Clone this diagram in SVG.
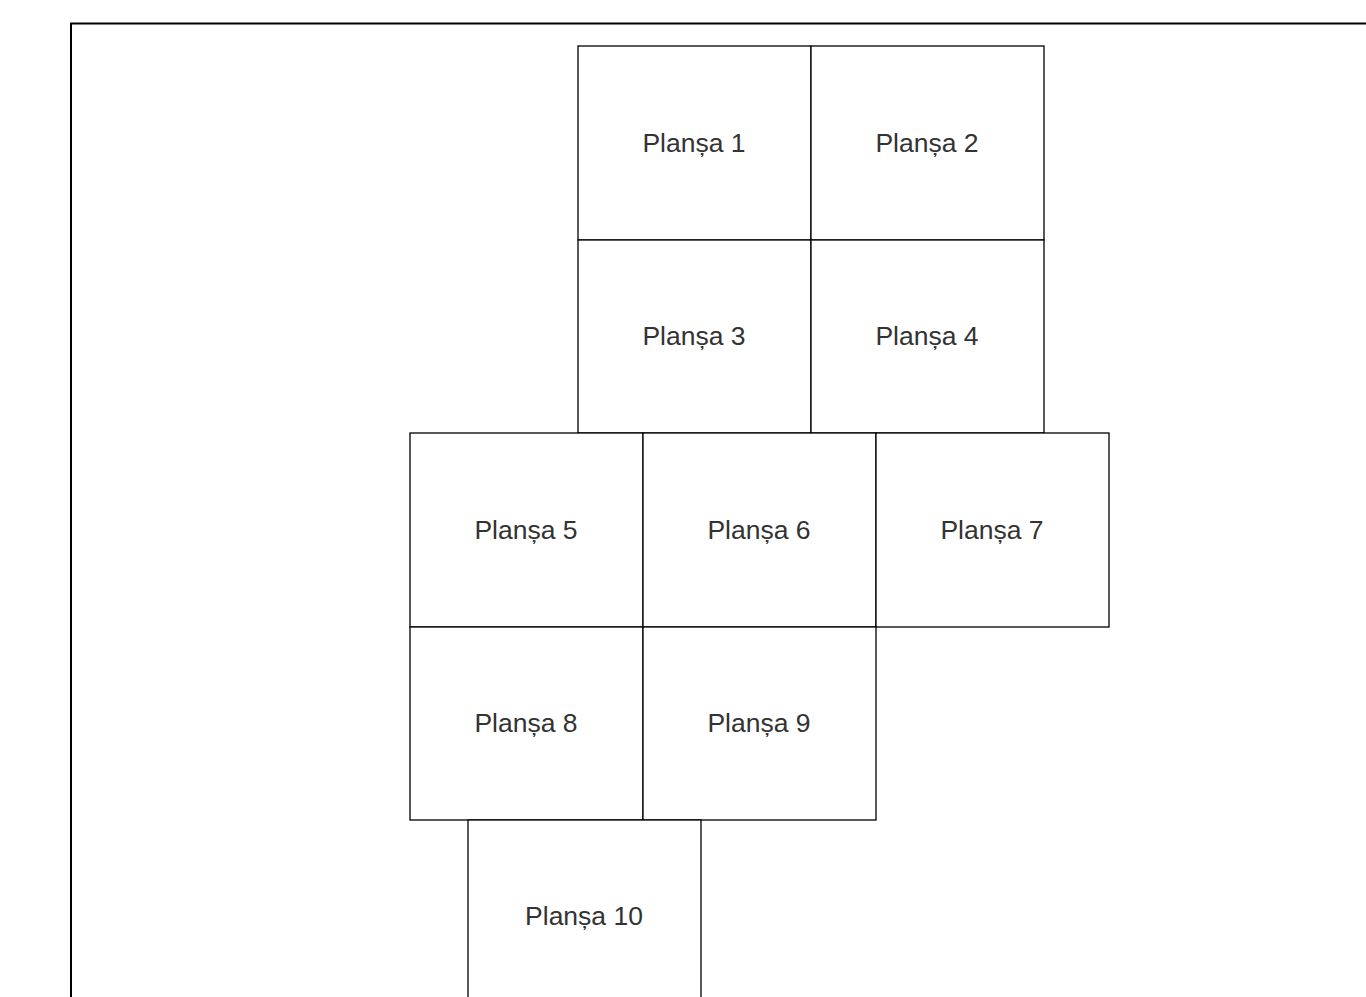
<svg xmlns="http://www.w3.org/2000/svg" width="1366" height="997" viewBox="0 0 1366 997">
<style>
.b{fill:#fff;stroke:#000;stroke-width:1.3}
.t{font-family:"Liberation Sans",Arial,sans-serif;font-size:26.5px;fill:#333;text-anchor:middle}
</style>
<rect width="1366" height="997" fill="#fff"/>
<path d="M71 997 V23.5 H1366" fill="none" stroke="#000" stroke-width="2"/>
<g id="n1"><rect class="b" x="578" y="46" width="233" height="194"/><text class="t" x="694" y="151.5">Planșa 1</text></g>
<g id="n2"><rect class="b" x="811" y="46" width="233" height="194"/><text class="t" x="927" y="151.5">Planșa 2</text></g>
<g id="n3"><rect class="b" x="578" y="240" width="233" height="193"/><text class="t" x="694" y="344.5">Planșa 3</text></g>
<g id="n4"><rect class="b" x="811" y="240" width="233" height="193"/><text class="t" x="927" y="344.5">Planșa 4</text></g>
<g id="n5"><rect class="b" x="410" y="433" width="233" height="194"/><text class="t" x="526" y="538.5">Planșa 5</text></g>
<g id="n6"><rect class="b" x="643" y="433" width="233" height="194"/><text class="t" x="759" y="538.5">Planșa 6</text></g>
<g id="n7"><rect class="b" x="876" y="433" width="233" height="194"/><text class="t" x="992" y="538.5">Planșa 7</text></g>
<g id="n8"><rect class="b" x="410" y="627" width="233" height="193"/><text class="t" x="526" y="731.5">Planșa 8</text></g>
<g id="n9"><rect class="b" x="643" y="627" width="233" height="193"/><text class="t" x="759" y="731.5">Planșa 9</text></g>
<g id="n10"><rect class="b" x="468" y="820" width="233" height="194"/><text class="t" x="584" y="924.5">Planșa 10</text></g>
<g id="connectors"></g>
</svg>
